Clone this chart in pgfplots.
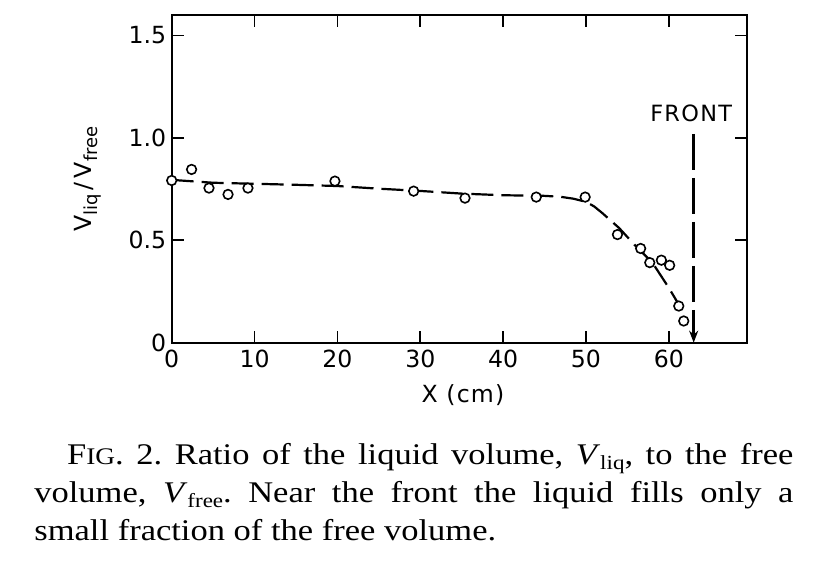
\documentclass[border=0pt]{standalone}
\usepackage{pgfplots}
\pgfplotsset{compat=1.18}
\usepackage{fontspec}
\setmainfont{DejaVu Sans}
\newfontfamily\capfont[FakeStretch=1.15]{Liberation Serif}
\usetikzlibrary{arrows.meta}
\frenchspacing

\newcommand{\sub}[1]{\raisebox{-0.45ex}{\fontsize{9}{9}\selectfont #1}}
\newcommand{\csub}[1]{\raisebox{-0.35ex}{\fontsize{10}{10}\selectfont #1}}

\begin{document}
\begin{tikzpicture}
\path[use as bounding box] (0,0) rectangle (411pt,-281pt);
\begin{axis}[
  at={(85.85pt,-171.35pt)}, anchor=south west,
  scale only axis, width=287.5pt, height=163.85pt,
  xmin=0, xmax=69.4, ymin=0, ymax=1.6,
  xtick={0,10,20,30,40,50,60},
  ytick={0,0.5,1,1.5}, yticklabels={0,0.5,1.0,1.5},
  tick align=inside, major tick length=6pt,
  line width=0.9pt,
  tick style={line width=0.9pt, black},
  ticklabel style={font=\fontsize{11.8}{12}\selectfont},
  yticklabel style={xshift=1pt},
  /pgf/number format/assume math mode=true,
  clip=false,
]
% fitted dashed curve
\addplot[black, line width=1.1pt, dash pattern=on 11pt off 4pt] coordinates {
(0,0.795) (5,0.781) (10,0.776) (15,0.771) (20,0.765) (25,0.752) (30,0.741)
(35,0.728) (40,0.720) (45,0.717) (47,0.712) (48.5,0.703) (50,0.688) (51,0.665)
(52,0.632) (54,0.560) (56,0.472) (58,0.392) (60,0.268) (61,0.200)
};
% measured points
\addplot[only marks, mark=*, mark size=2.4pt,
  mark options={draw=black, fill=white, line width=0.8pt}] coordinates {
(0,0.792) (2.4,0.846) (4.5,0.755) (6.8,0.724) (9.2,0.755) (19.7,0.789)
(29.2,0.740) (35.4,0.706) (44.0,0.711) (49.9,0.711) (53.8,0.528) (56.6,0.460)
(57.7,0.391) (59.1,0.403) (60.1,0.378) (61.2,0.179) (61.8,0.106)
};
% front marker
\addplot[black, line width=1.2pt, dash pattern=on 18pt off 4pt,
  -{Stealth[length=6pt,width=4.5pt]}] coordinates {(63.0,1.02) (63.0,0)};
\node[font=\fontsize{11.2}{12}\selectfont\addfontfeatures{LetterSpace=6}]
  at (axis cs:62.7,1.12) {FRONT};
\end{axis}
\node[rotate=90, font=\fontsize{11.8}{12}\selectfont] at (44pt,-89.5pt)
  {V\sub{liq}\,/\,V\sub{free}};
\node[font=\fontsize{11.8}{12}\selectfont\addfontfeatures{LetterSpace=5}] at (231.5pt,-197.5pt) {X (cm)};
\begin{scope}[every node/.style={anchor=base west, inner sep=0pt,
  font=\capfont\fontsize{15}{17}\selectfont}]
\node at (33.35pt,-232.2pt) {\makebox[363.15pt][s]{F{\fontsize{11.9}{12}\selectfont IG}. 2. Ratio of the liquid volume, \textit{V}\csub{liq}, to the free}};
\node at (17pt,-251.4pt) {\makebox[379.5pt][s]{volume, \textit{V}\csub{free}. Near the front the liquid fills only a}};
\node at (17pt,-270.4pt) {small fraction of the free volume.};
\end{scope}
\end{tikzpicture}
\end{document}
